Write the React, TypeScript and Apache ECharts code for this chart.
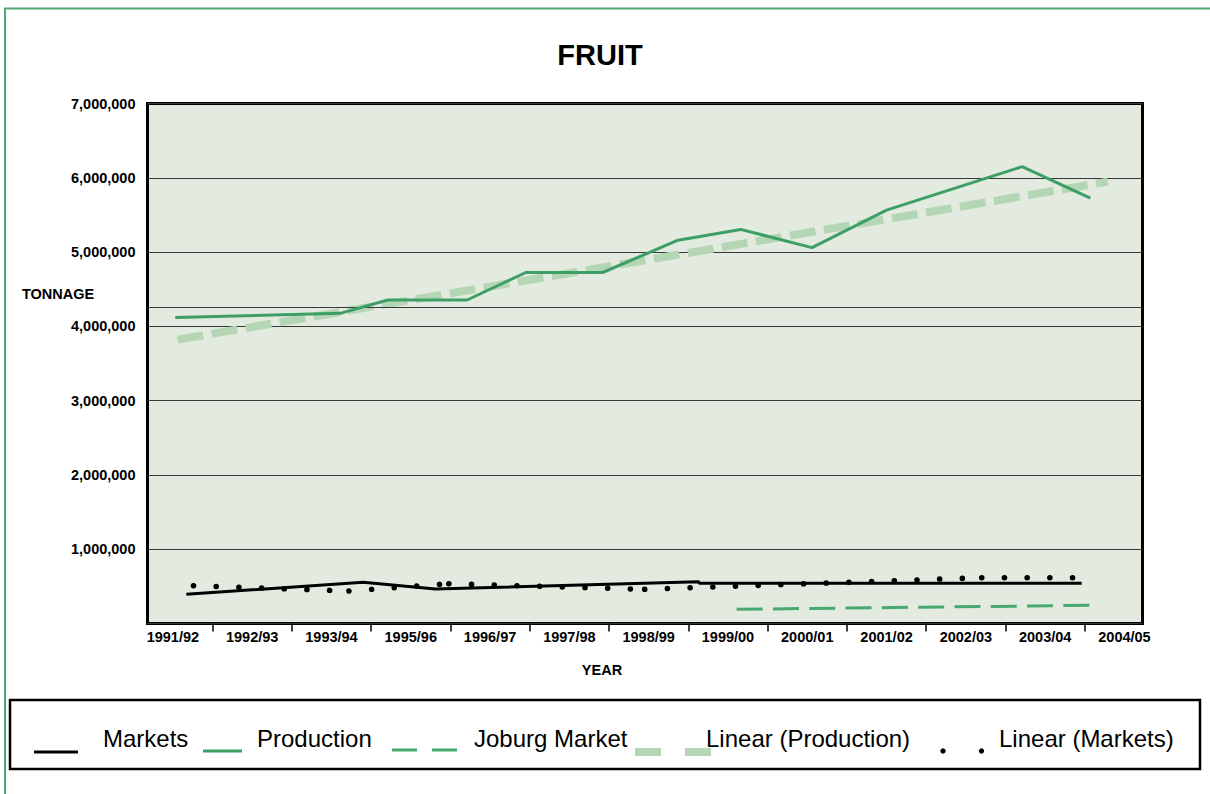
import React, { useEffect, useRef } from 'react';
import * as echarts from 'echarts';

// ---- data ----
const seasonLabels = ['1991/92', '1992/93', '1993/94', '1995/96', '1996/97', '1997/98', '1998/99', '1999/00', '2000/01', '2001/02', '2002/03', '2003/04', '2004/05'];
const yTickLabels = ['', '1,000,000', '2,000,000', '3,000,000', '4,000,000', '5,000,000', '6,000,000', '7,000,000'];

// x positions are expressed in season-label units (0 = 1991/92 label, 12 = 2004/05 label)
const productionPos = [0.03, 2.11, 2.71, 3.71, 4.45, 5.42, 6.37, 7.16, 8.06, 9.0, 10.71, 11.57];
const productionVal = [4120000, 4175000, 4355000, 4355000, 4725000, 4725000, 5160000, 5305000, 5060000, 5565000, 6150000, 5725000];

const marketsPos = [0.17, 2.4, 3.31, 6.63, 6.64, 11.46];
const marketsVal = [393000, 555000, 464000, 563000, 541000, 541000];

const joburgPos = [7.11, 11.57];
const joburgVal = [191000, 245000];

const linProdPos = [0.06, 11.79];
const linProdVal = [3821000, 5948000];

const linMktPos = [0.26, 2.22, 3.48, 5.95, 10.2, 11.48];
const linMktVal = [509000, 437000, 536000, 460000, 617000, 617000];

const extraGridLine = 4251000;

const seriesNames = ['Markets', 'Production', 'Joburg Market', 'Linear (Production)', 'Linear (Markets)'];

const FONT = '"Liberation Sans", Arial, Helvetica, sans-serif';
const GREEN = '#3d9f65';
const LIGHT_GREEN = '#b4d6b4';

const zip = (xs: number[], ys: number[]) => xs.map((x, i) => [x, ys[i]]);

export default function App() {
  const ref = useRef<HTMLDivElement>(null);

  useEffect(() => {
    if (!ref.current) return;
    const chart = echarts.init(ref.current, undefined, { renderer: 'svg' });

    const linMktSegments = linMktPos.slice(0, -1).map((_, i) => ({
      type: 'line',
      name: seriesNames[4],
      xAxisIndex: 1,
      yAxisIndex: 1,
      symbol: 'none',
      silent: true,
      data: [
        [linMktPos[i], linMktVal[i]],
        [linMktPos[i + 1], linMktVal[i + 1]],
      ],
      lineStyle: { color: '#000', width: 5.5, type: [0.1, 22.6], cap: 'round' },
      z: 3,
    }));

    const option: any = {
      animation: false,
      textStyle: { fontFamily: FONT },
      grid: [
        { left: 147.5, top: 103.5, width: 995, height: 520, show: true, backgroundColor: '#e3ebe1', borderColor: '#000', borderWidth: 3 },
        { left: 133.2, top: 103.5, width: 1030.9, height: 520, show: false },
      ],
      xAxis: [
        { gridIndex: 0, type: 'value', min: 0, max: 1, show: false },
        {
          gridIndex: 1,
          type: 'value',
          min: -0.5,
          max: 12.5,
          axisLine: { show: false },
          splitLine: { show: false },
          axisTick: {
            show: true,
            length: 8,
            lineStyle: { color: '#000', width: 1.5 },
            customValues: seasonLabels.slice(1).map((_, i) => i + 0.5),
          },
          axisLabel: {
            customValues: seasonLabels.map((_, i) => i),
            formatter: (v: number) => seasonLabels[Math.round(v)] ?? '',
            fontSize: 14.5,
            fontWeight: 'bold',
            color: '#000',
            fontFamily: FONT,
            margin: 6,
          },
        },
      ],
      yAxis: [
        {
          gridIndex: 0,
          type: 'value',
          min: 0,
          max: 7000000,
          interval: 1000000,
          axisLine: { show: false },
          axisTick: { show: false },
          splitLine: { show: true, lineStyle: { color: '#383838', width: 1 } },
          axisLabel: {
            formatter: (v: number) => yTickLabels[Math.round(v / 1000000)] ?? '',
            fontSize: 14.5,
            fontWeight: 'bold',
            color: '#000',
            fontFamily: FONT,
            margin: 12,
          },
        },
        { gridIndex: 1, type: 'value', min: 0, max: 7000000, show: false },
      ],
      series: [
        {
          type: 'line',
          name: 'gridline',
          xAxisIndex: 0,
          yAxisIndex: 0,
          data: [],
          silent: true,
          markLine: {
            silent: true,
            symbol: ['none', 'none'],
            label: { show: false },
            lineStyle: { color: '#383838', width: 1, type: 'solid' },
            data: [{ yAxis: extraGridLine }],
          },
          z: 1,
        },
        {
          type: 'line',
          name: seriesNames[3],
          xAxisIndex: 1,
          yAxisIndex: 1,
          symbol: 'none',
          silent: true,
          data: zip(linProdPos, linProdVal),
          lineStyle: { color: LIGHT_GREEN, width: 8, type: [26, 8.5], cap: 'butt' },
          z: 2,
        },
        ...linMktSegments,
        {
          type: 'line',
          name: seriesNames[2],
          xAxisIndex: 1,
          yAxisIndex: 1,
          symbol: 'none',
          silent: true,
          data: zip(joburgPos, joburgVal),
          lineStyle: { color: '#48a86e', width: 3, type: [26, 10.3] },
          z: 4,
        },
        {
          type: 'line',
          name: seriesNames[1],
          xAxisIndex: 1,
          yAxisIndex: 1,
          symbol: 'none',
          silent: true,
          data: zip(productionPos, productionVal),
          lineStyle: { color: GREEN, width: 3 },
          z: 5,
        },
        {
          type: 'line',
          name: seriesNames[0],
          xAxisIndex: 1,
          yAxisIndex: 1,
          symbol: 'none',
          silent: true,
          data: zip(marketsPos, marketsVal),
          lineStyle: { color: '#000', width: 3 },
          z: 5,
        },
      ],
      graphic: [
        { type: 'rect', silent: true, shape: { x: 5, y: 8.5, width: 1400, height: 1000 }, style: { fill: 'none', stroke: '#4ea870', lineWidth: 2 } },
        { type: 'text', x: 600, y: 55, style: { text: 'FRUIT', fontSize: 29, fontWeight: 'bold', fontFamily: FONT, fill: '#000', align: 'center', verticalAlign: 'middle' } },
        { type: 'text', x: 58, y: 294, style: { text: 'TONNAGE', fontSize: 14.5, fontWeight: 'bold', fontFamily: FONT, fill: '#000', align: 'center', verticalAlign: 'middle' } },
        { type: 'text', x: 602, y: 670, style: { text: 'YEAR', fontSize: 14.5, fontWeight: 'bold', fontFamily: FONT, fill: '#000', align: 'center', verticalAlign: 'middle' } },
        { type: 'rect', silent: true, shape: { x: 10, y: 700, width: 1190, height: 69 }, style: { fill: 'none', stroke: '#000', lineWidth: 2.5 } },
        // legend samples
        { type: 'line', shape: { x1: 34, y1: 752, x2: 78, y2: 752 }, style: { stroke: '#000', lineWidth: 3 } },
        { type: 'line', shape: { x1: 203, y1: 751, x2: 242, y2: 751 }, style: { stroke: GREEN, lineWidth: 3 } },
        { type: 'line', shape: { x1: 392, y1: 750, x2: 457, y2: 750 }, style: { stroke: '#48a86e', lineWidth: 3, lineDash: [25, 15] } },
        { type: 'line', shape: { x1: 635, y1: 752, x2: 711, y2: 752 }, style: { stroke: LIGHT_GREEN, lineWidth: 8, lineDash: [26, 24] } },
        { type: 'circle', shape: { cx: 943, cy: 751, r: 2.7 }, style: { fill: '#000' } },
        { type: 'circle', shape: { cx: 981.5, cy: 751, r: 2.7 }, style: { fill: '#000' } },
        // legend texts
        ...[
          [seriesNames[0], 103],
          [seriesNames[1], 257],
          [seriesNames[2], 474],
          [seriesNames[3], 706],
          [seriesNames[4], 999],
        ].map(([t, x]) => ({
          type: 'text',
          x: x as number,
          y: 738,
          style: { text: t as string, fontSize: 24, fontFamily: FONT, fill: '#000', align: 'left', verticalAlign: 'middle' },
        })),
      ],
    };

    chart.setOption(option);
    return () => chart.dispose();
  }, []);

  return (
    <div
      ref={ref}
      style={{ position: 'absolute', left: 0, top: 0, width: 1210, height: 794, background: '#fff' }}
    />
  );
}
